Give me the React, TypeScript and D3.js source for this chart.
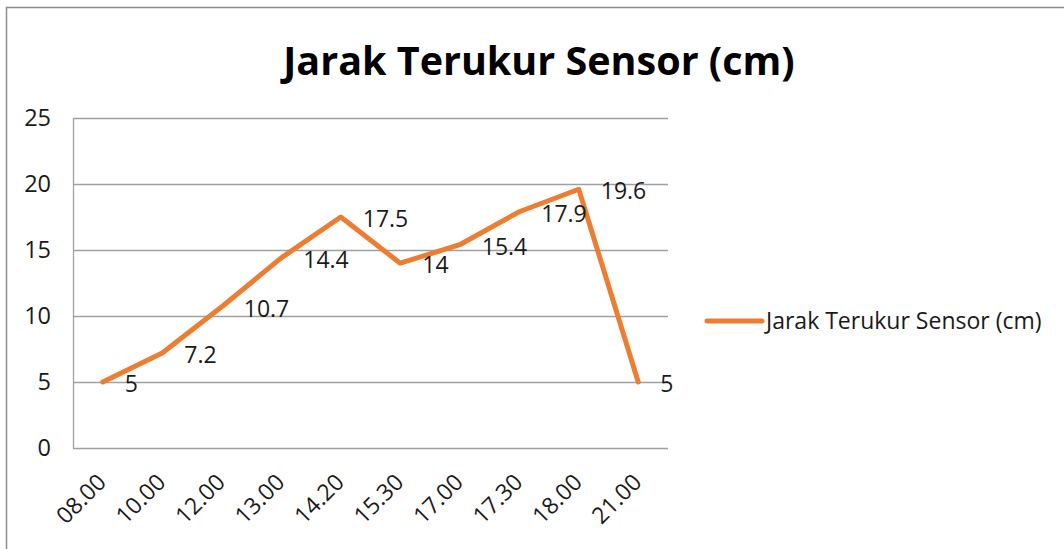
import React from "react";
import * as d3 from "d3";

const categories = ["08.00", "10.00", "12.00", "13.00", "14.20", "15.30", "17.00", "17.30", "18.00", "21.00"];
const values = [5, 7.2, 10.7, 14.4, 17.5, 14, 15.4, 17.9, 19.6, 5];
const yTicks = [0, 5, 10, 15, 20, 25];
const seriesName = "Jarak Terukur Sensor (cm)";
const title = "Jarak Terukur Sensor (cm)";

const W = 1064;
const H = 549;
const FONT = "'Open Sans', sans-serif";

export default function App() {
  const left = 73, right = 668, top = 118, bottom = 448;
  const x = d3.scaleBand<string>().domain(categories).range([left, right]).padding(0);
  const y = d3.scaleLinear().domain([0, 25]).range([bottom, top]);
  const cx = (c: string) => (x(c) as number) + x.bandwidth() / 2;
  const line = d3
    .line<number>()
    .x((_, i) => cx(categories[i]))
    .y((v) => y(v));

  return (
    <svg width={W} height={H} style={{ position: "absolute", left: 0, top: 0, background: "#fff" }}>
      <rect x={0} y={0} width={W} height={H} fill="#fff" />
      <rect x={6.5} y={7.5} width={W + 20} height={H + 20} fill="none" stroke="#8c8c8c" strokeWidth={1.5} />
      <text x={539} y={75} textAnchor="middle" fontFamily={FONT} fontWeight={700} fontSize={39.5} fill="#000">
        {title}
      </text>
      {yTicks.map((t) => (
        <g key={t}>
          <line x1={left} x2={right} y1={Math.round(y(t)) + 0.5} y2={Math.round(y(t)) + 0.5} stroke="#a0a0a0" strokeWidth={1.3} />
          <text x={51} y={y(t)} dy="0.35em" textAnchor="end" fontFamily={FONT} fontSize={23.5} fill="#1a1a1a">
            {t}
          </text>
        </g>
      ))}
      <line x1={left + 0.5} x2={left + 0.5} y1={top} y2={bottom} stroke="#a0a0a0" strokeWidth={1.3} />
      {categories.map((c) => (
        <text
          key={c}
          transform={`translate(${cx(c) - 1},${478}) rotate(-45)`}
          textAnchor="end"
          dy="0.35em"
          fontFamily={FONT}
          fontSize={23}
          fill="#1a1a1a"
        >
          {c}
        </text>
      ))}
      <path d={line(values) as string} fill="none" stroke="#ED7D31" strokeWidth={5} strokeLinejoin="round" strokeLinecap="round" />
      {values.map((v, i) => (
        <text key={i} x={cx(categories[i]) + 22} y={y(v) + 2} dy="0.35em" fontFamily={FONT} fontSize={23} fill="#1a1a1a">
          {v}
        </text>
      ))}
      <line x1={707} x2={762} y1={321} y2={321} stroke="#ED7D31" strokeWidth={5} strokeLinecap="round" />
      <text x={766} y={321} dy="0.35em" fontFamily={FONT} fontSize={23} fill="#1a1a1a">
        {seriesName}
      </text>
    </svg>
  );
}
